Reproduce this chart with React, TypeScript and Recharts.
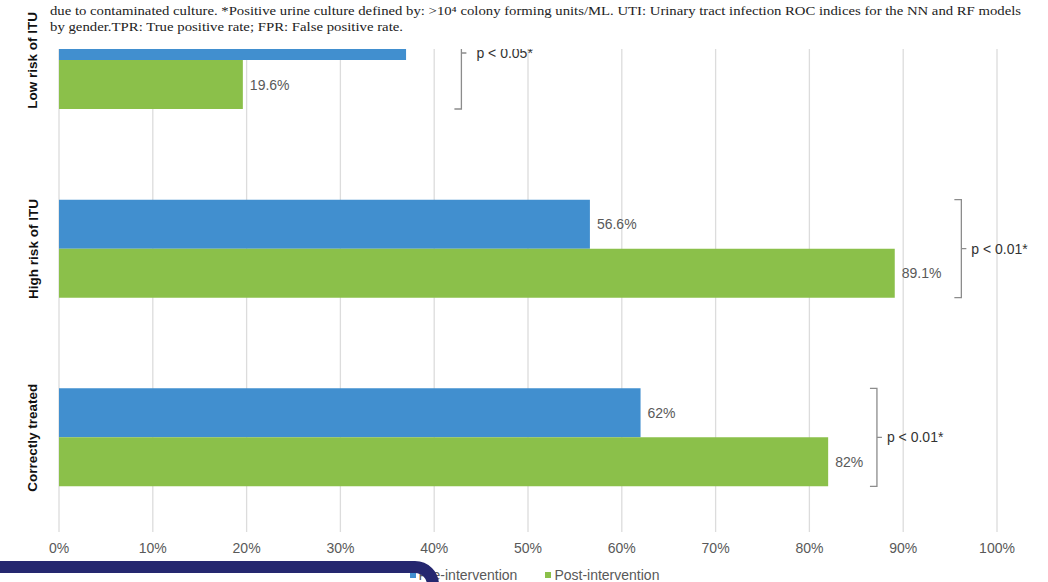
import { Bar, BarChart, CartesianGrid, LabelList, Legend, XAxis, YAxis } from "recharts"

// Share of patients by risk group, before and after the stewardship intervention (%)
const categories = ["Low risk of ITU", "High risk of ITU", "Correctly treated"]
const preIntervention = [37, 56.6, 62]
const postIntervention = [19.6, 89.1, 82]
const xTicks = [0, 10, 20, 30, 40, 50, 60, 70, 80, 90, 100]

// significance brackets, positioned in axis units (%)
const bracketAt = [42.9, 96.2, 87.2]
const bracketText = ["p < 0.05*", "p < 0.01*", "p < 0.01*"]

const BLUE = "#418fcf"
const GREEN = "#8bc04a"
const FONT = "'Liberation Sans', Arial, sans-serif"

const data = categories.map((name, i) => ({
  name,
  pre: preIntervention[i],
  post: postIntervention[i],
}))

const CategoryTick = (props: any) => {
  const { y, payload } = props
  return (
    <text
      x={33} y={y}
      transform={`rotate(-90, 33, ${y})`}
      textAnchor="middle" dominantBaseline="central"
      fontSize={13.5} fontWeight="bold" fill="#111" fontFamily={FONT}
    >
      {payload.value}
    </text>
  )
}

const valueText = (x: number, y: number, value: number) => (
  <text x={x} y={y} dominantBaseline="central" fontSize={14} fill="#595959" fontFamily={FONT}>
    {`${value}%`}
  </text>
)

const PreLabel = (props: any) => {
  const { x, y, width, height } = props.viewBox ?? props
  return valueText(x + width + 7, y + height / 2, props.value)
}

// value label plus the bracket that spans both bars of the category
const PostLabel = (props: any) => {
  const { x, y, width, height } = props.viewBox ?? props
  const { value, index } = props
  const bx = x + (bracketAt[index] * width) / value
  const top = y - height
  const bottom = y + height
  const mid = index === 0 ? y - 7 : y
  return (
    <g>
      {valueText(x + width + 7, y + height / 2, value)}
      <path
        d={`M${bx - 7},${top} H${bx} V${bottom} H${bx - 7} M${bx},${mid} H${bx + 5}`}
        fill="none" stroke="#8c8c8c" strokeWidth={1.3}
      />
      <text x={bx + (index === 0 ? 15 : 10)} y={mid} dominantBaseline="central" fontSize={14} fill="#333" fontFamily={FONT}>
        {bracketText[index]}
      </text>
    </g>
  )
}

const LegendContent = () => (
  <div style={{ display: "flex", justifyContent: "center", gap: 28, fontFamily: FONT, fontSize: 14, color: "#595959", paddingLeft: 72, paddingTop: 4 }}>
    {[["Pre-intervention", BLUE], ["Post-intervention", GREEN]].map(([label, color]) => (
      <span key={label} style={{ display: "flex", alignItems: "center" }}>
        <span style={{ width: 6, height: 6, background: color, marginRight: 3, display: "inline-block" }} />
        {label}
      </span>
    ))}
  </div>
)

export default function App() {
  return (
    <div style={{ position: "fixed", left: 0, top: 0, width: 1048, height: 582, overflow: "hidden", background: "#fff" }}>
      <div style={{ position: "absolute", left: 0, top: -34 }}>
        <BarChart
          width={1048} height={617} data={data} layout="vertical"
          margin={{ top: 0, right: 51, bottom: 0, left: 0 }}
          barGap={0} barSize={49}
        >
          <CartesianGrid horizontal={false} stroke="#dcdcdc" strokeWidth={1.3} />
          <XAxis
            type="number" domain={[0, 100]} ticks={xTicks}
            tickFormatter={(v) => `${v}%`}
            axisLine={false} tickLine={false} tickMargin={5} height={31}
            tick={{ fill: "#595959", fontSize: 14, fontFamily: FONT }}
          />
          <YAxis
            type="category" dataKey="name" width={59}
            axisLine={false} tickLine={false} tick={<CategoryTick />}
          />
          <Legend verticalAlign="bottom" height={20} content={<LegendContent />} />
          <Bar dataKey="pre" name="Pre-intervention" fill={BLUE} isAnimationActive={false}>
            <LabelList dataKey="pre" content={<PreLabel />} />
          </Bar>
          <Bar dataKey="post" name="Post-intervention" fill={GREEN} isAnimationActive={false}>
            <LabelList dataKey="post" content={<PostLabel />} />
          </Bar>
        </BarChart>
      </div>

      {/* caption strip of the page above the figure */}
      <svg width={1048} height={49} style={{ position: "absolute", left: 0, top: 0 }}>
        <rect x={45} y={0} width={1003} height={49} fill="#fff" />
        <text x={50} y={15} fontSize={13} fill="#222" fontFamily="'Liberation Serif', serif" textLength={971} lengthAdjust="spacingAndGlyphs">
          due to contaminated culture. *Positive urine culture defined by: &gt;10⁴ colony forming units/ML. UTI: Urinary tract infection ROC indices for the NN and RF models
        </text>
        <text x={50} y={31} fontSize={13} fill="#222" fontFamily="'Liberation Serif', serif" textLength={353} lengthAdjust="spacingAndGlyphs">
          by gender.TPR: True positive rate; FPR: False positive rate.
        </text>
      </svg>

      {/* rounded navy frame in the lower left corner */}
      <div
        style={{
          position: "absolute", left: -30, top: 561, width: 445, height: 60,
          border: "12px solid #25276f", borderRadius: 24,
        }}
      />
    </div>
  )
}
